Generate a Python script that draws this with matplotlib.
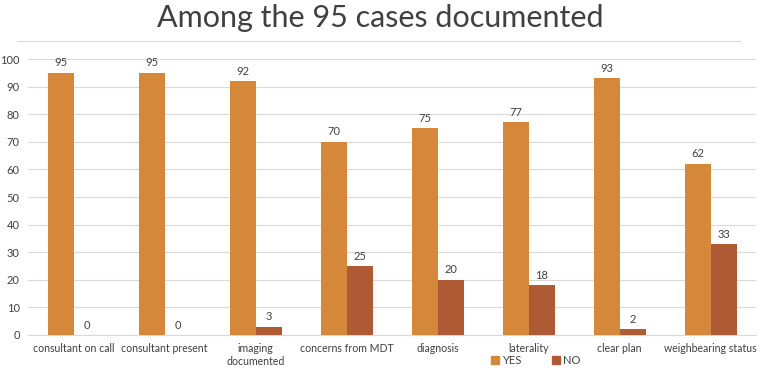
import numpy as np
import matplotlib.pyplot as plt
from matplotlib.lines import Line2D

categories = ['consultant on call', 'consultant present', 'imaging\ndocumented',
              'concerns from MDT', 'diagnosis', 'laterality', 'clear plan',
              'weighbearing status']
yes_vals = [95, 95, 92, 70, 75, 77, 93, 62]
no_vals = [0, 0, 3, 25, 20, 18, 2, 33]

plt.rcParams['font.family'] = ['Lato', 'DejaVu Sans']

yes_color = '#D6883A'
no_color = '#AE5A34'
txt_color = '#404040'

fig = plt.figure(figsize=(7.6, 3.7), dpi=100)
ax = fig.add_axes([0.037, 0.0946, 0.958, 0.7459])

x = np.arange(len(categories))
w = 0.286
b1 = ax.bar(x - w / 2, yes_vals, w, color=yes_color, label='YES', zorder=3)
b2 = ax.bar(x + w / 2, no_vals, w, color=no_color, label='NO', zorder=3)

for bars in (b1, b2):
    for r in bars:
        ax.text(r.get_x() + r.get_width() / 2, r.get_height() + 1.6,
                f'{int(r.get_height())}', ha='center', va='bottom',
                fontsize=8, color=txt_color)

ax.set_xlim(-0.5, len(categories) - 0.5)
ax.set_ylim(0, 100)
ax.set_yticks(range(0, 101, 10))
ax.yaxis.grid(True, color='#D9D9D9', lw=0.8, zorder=0)
for s in ['top', 'right', 'left']:
    ax.spines[s].set_visible(False)
ax.spines['bottom'].set_color('#D9D9D9')
ax.tick_params(axis='both', length=0, labelsize=8, labelcolor=txt_color)
ax.tick_params(axis='y', pad=6)
ax.set_xticks(x)
ax.set_xticklabels(categories, linespacing=1.2, fontsize=7.6)
ax.tick_params(axis='x', pad=6)

fig.text(0.5, 0.952, 'Among the 95 cases documented', ha='center', va='center',
         fontsize=22, color='#404040')
fig.add_artist(Line2D([0.022, 0.974], [0.889, 0.889], color='#D9D9D9', lw=0.8))

handles = [plt.Rectangle((0, 0), 1, 1, color=yes_color),
           plt.Rectangle((0, 0), 1, 1, color=no_color)]
fig.legend(handles, ['YES', 'NO'], loc='center', bbox_to_anchor=(0.705, 0.027),
           ncol=2, frameon=False, fontsize=8, handlelength=0.7, handleheight=0.7,
           columnspacing=2.8, handletextpad=0.3, labelcolor=txt_color)

fig.savefig('out.png', dpi=100)
